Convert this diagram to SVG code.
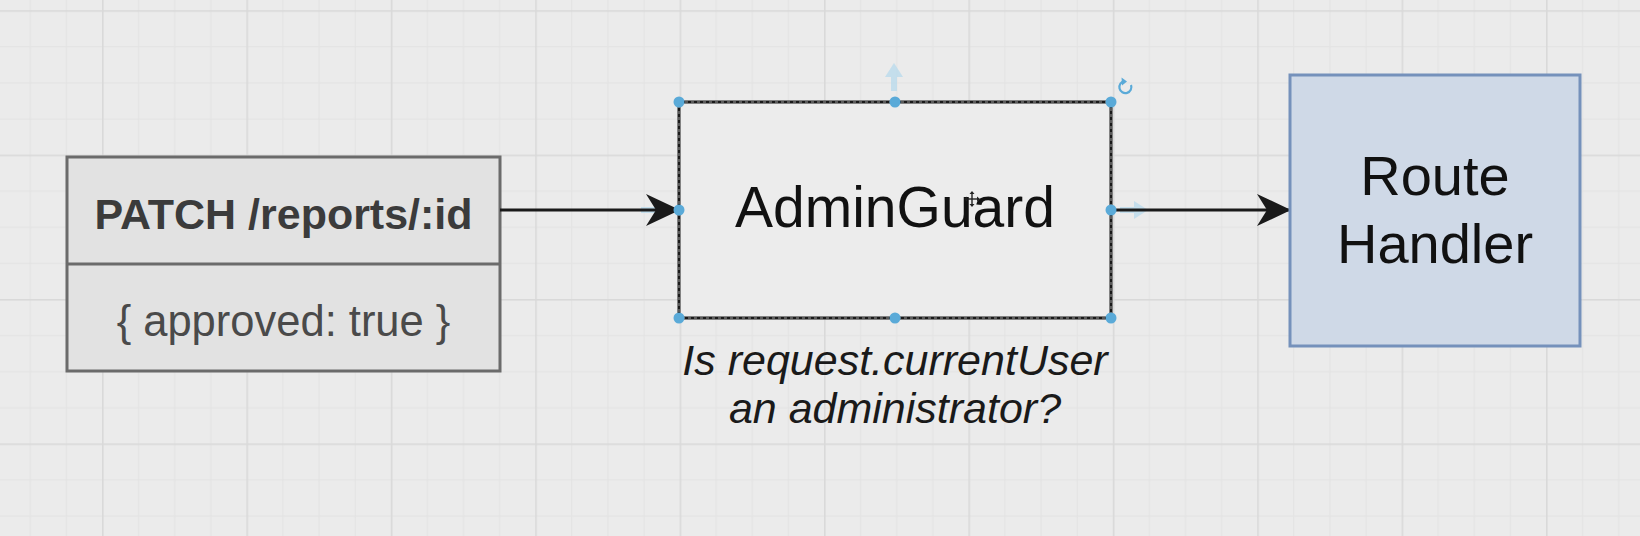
<svg xmlns="http://www.w3.org/2000/svg" width="1640" height="536" viewBox="0 0 1640 536">
  <style>
    .bg { fill: #ebebeb; }
    .minor { fill: #e2e2e2; }
    .major { fill: #d9d9d9; }
    .sans { font-family: "Liberation Sans", Arial, Helvetica, sans-serif; }
    .conn { stroke: #1a1a1a; stroke-width: 3.2; fill: none; }
    .handle { fill: #5aaad8; }
    .hover { fill: #b4d8ec; opacity: 0.7; }
  </style>
  <defs>
    <pattern id="grid" patternUnits="userSpaceOnUse" x="102" y="10.2" width="144.4" height="144.4">
      <rect class="minor" x="36.1" y="0" width="1" height="144.4"/>
      <rect class="minor" x="72.2" y="0" width="1" height="144.4"/>
      <rect class="minor" x="108.3" y="0" width="1" height="144.4"/>
      <rect class="minor" x="0" y="36.1" width="144.4" height="1"/>
      <rect class="minor" x="0" y="72.2" width="144.4" height="1"/>
      <rect class="minor" x="0" y="108.3" width="144.4" height="1"/>
      <rect class="major" x="0" y="0" width="1.6" height="144.4"/>
      <rect class="major" x="0" y="0" width="144.4" height="1.6"/>
    </pattern>
    <marker id="stealth" viewBox="0 0 34 34" refX="33" refY="17" markerWidth="34" markerHeight="34" markerUnits="userSpaceOnUse" orient="auto">
      <path d="M0,1 L34,17 L0,33 L10,17 Z" fill="#1a1a1a"/>
    </marker>
    <path id="hoverArrow" d="M0,-3 L14,-3 L14,-9 L28,0 L14,9 L14,3 L0,3 Z"/>
  </defs>

  <rect class="bg" x="0" y="0" width="1640" height="536"/>
  <rect x="0" y="0" width="1640" height="536" fill="url(#grid)"/>

  <g id="request">
    <rect x="67" y="157" width="433" height="214" fill="#e2e2e2" stroke="#6b6b6b" stroke-width="3"/>
    <line x1="67" y1="264" x2="500" y2="264" stroke="#6b6b6b" stroke-width="3"/>
    <text class="sans" x="283.5" y="229" text-anchor="middle" font-size="43" font-weight="bold" fill="#3b3b3b" textLength="378" lengthAdjust="spacingAndGlyphs">PATCH /reports/:id</text>
    <text class="sans" x="283.5" y="336" text-anchor="middle" font-size="43.5" fill="#4a4a4a">{ approved: true }</text>
  </g>

  <g id="hover-arrows">
    <use href="#hoverArrow" class="hover" transform="translate(641,210)"/>
    <use href="#hoverArrow" class="hover" transform="translate(1120,210)"/>
    <use href="#hoverArrow" class="hover" transform="translate(894,91) rotate(-90)"/>
  </g>

  <g id="connectors">
    <path class="conn" d="M500,210 L679,210" marker-end="url(#stealth)"/>
    <path class="conn" d="M1111,210 L1290,210" marker-end="url(#stealth)"/>
  </g>

  <g id="adminguard">
    <rect x="679" y="102" width="432" height="216" fill="#ececec" stroke="#1a1a1a" stroke-width="3"/>
    <rect x="679" y="102" width="432" height="216" fill="none" stroke="#9a9a9a" stroke-width="1" stroke-dasharray="3 3"/>
    <text class="sans" x="895" y="227" text-anchor="middle" font-size="57" fill="#111111">AdminGuard</text>
    <text class="sans" x="895" y="375" text-anchor="middle" font-size="43" font-style="italic" fill="#1a1a1a">Is request.currentUser</text>
    <text class="sans" x="895" y="423" text-anchor="middle" font-size="43" font-style="italic" fill="#1a1a1a">an administrator?</text>
  </g>

  <g id="selection">
    <circle class="handle" cx="679" cy="102" r="5.5"/>
    <circle class="handle" cx="895" cy="102" r="5.5"/>
    <circle class="handle" cx="1111" cy="102" r="5.5"/>
    <circle class="handle" cx="679" cy="210" r="5.5"/>
    <circle class="handle" cx="1111" cy="210" r="5.5"/>
    <circle class="handle" cx="679" cy="318" r="5.5"/>
    <circle class="handle" cx="895" cy="318" r="5.5"/>
    <circle class="handle" cx="1111" cy="318" r="5.5"/>
    <path d="M1131,85 A6,6 0 1 1 1124.5,81.2" fill="none" stroke="#5aaad8" stroke-width="2.2"/>
    <path d="M1121.5,77.5 L1127,81.5 L1122,85.5 Z" fill="#5aaad8"/>
    <g transform="translate(972,199)" stroke="#222" stroke-width="1.4" fill="#222">
      <line x1="-7" y1="0" x2="7" y2="0"/>
      <line x1="0" y1="-7" x2="0" y2="7"/>
      <path d="M-8,0 L-5,-2.5 L-5,2.5 Z M8,0 L5,-2.5 L5,2.5 Z M0,-8 L-2.5,-5 L2.5,-5 Z M0,8 L-2.5,5 L2.5,5 Z" stroke="none"/>
    </g>
  </g>

  <g id="route-handler">
    <rect x="1290" y="75" width="290" height="271" fill="#cfd9e7" stroke="#7591bb" stroke-width="3"/>
    <text class="sans" x="1435" y="195" text-anchor="middle" font-size="56" fill="#111111">Route</text>
    <text class="sans" x="1435" y="263" text-anchor="middle" font-size="56" fill="#111111">Handler</text>
  </g>
</svg>
